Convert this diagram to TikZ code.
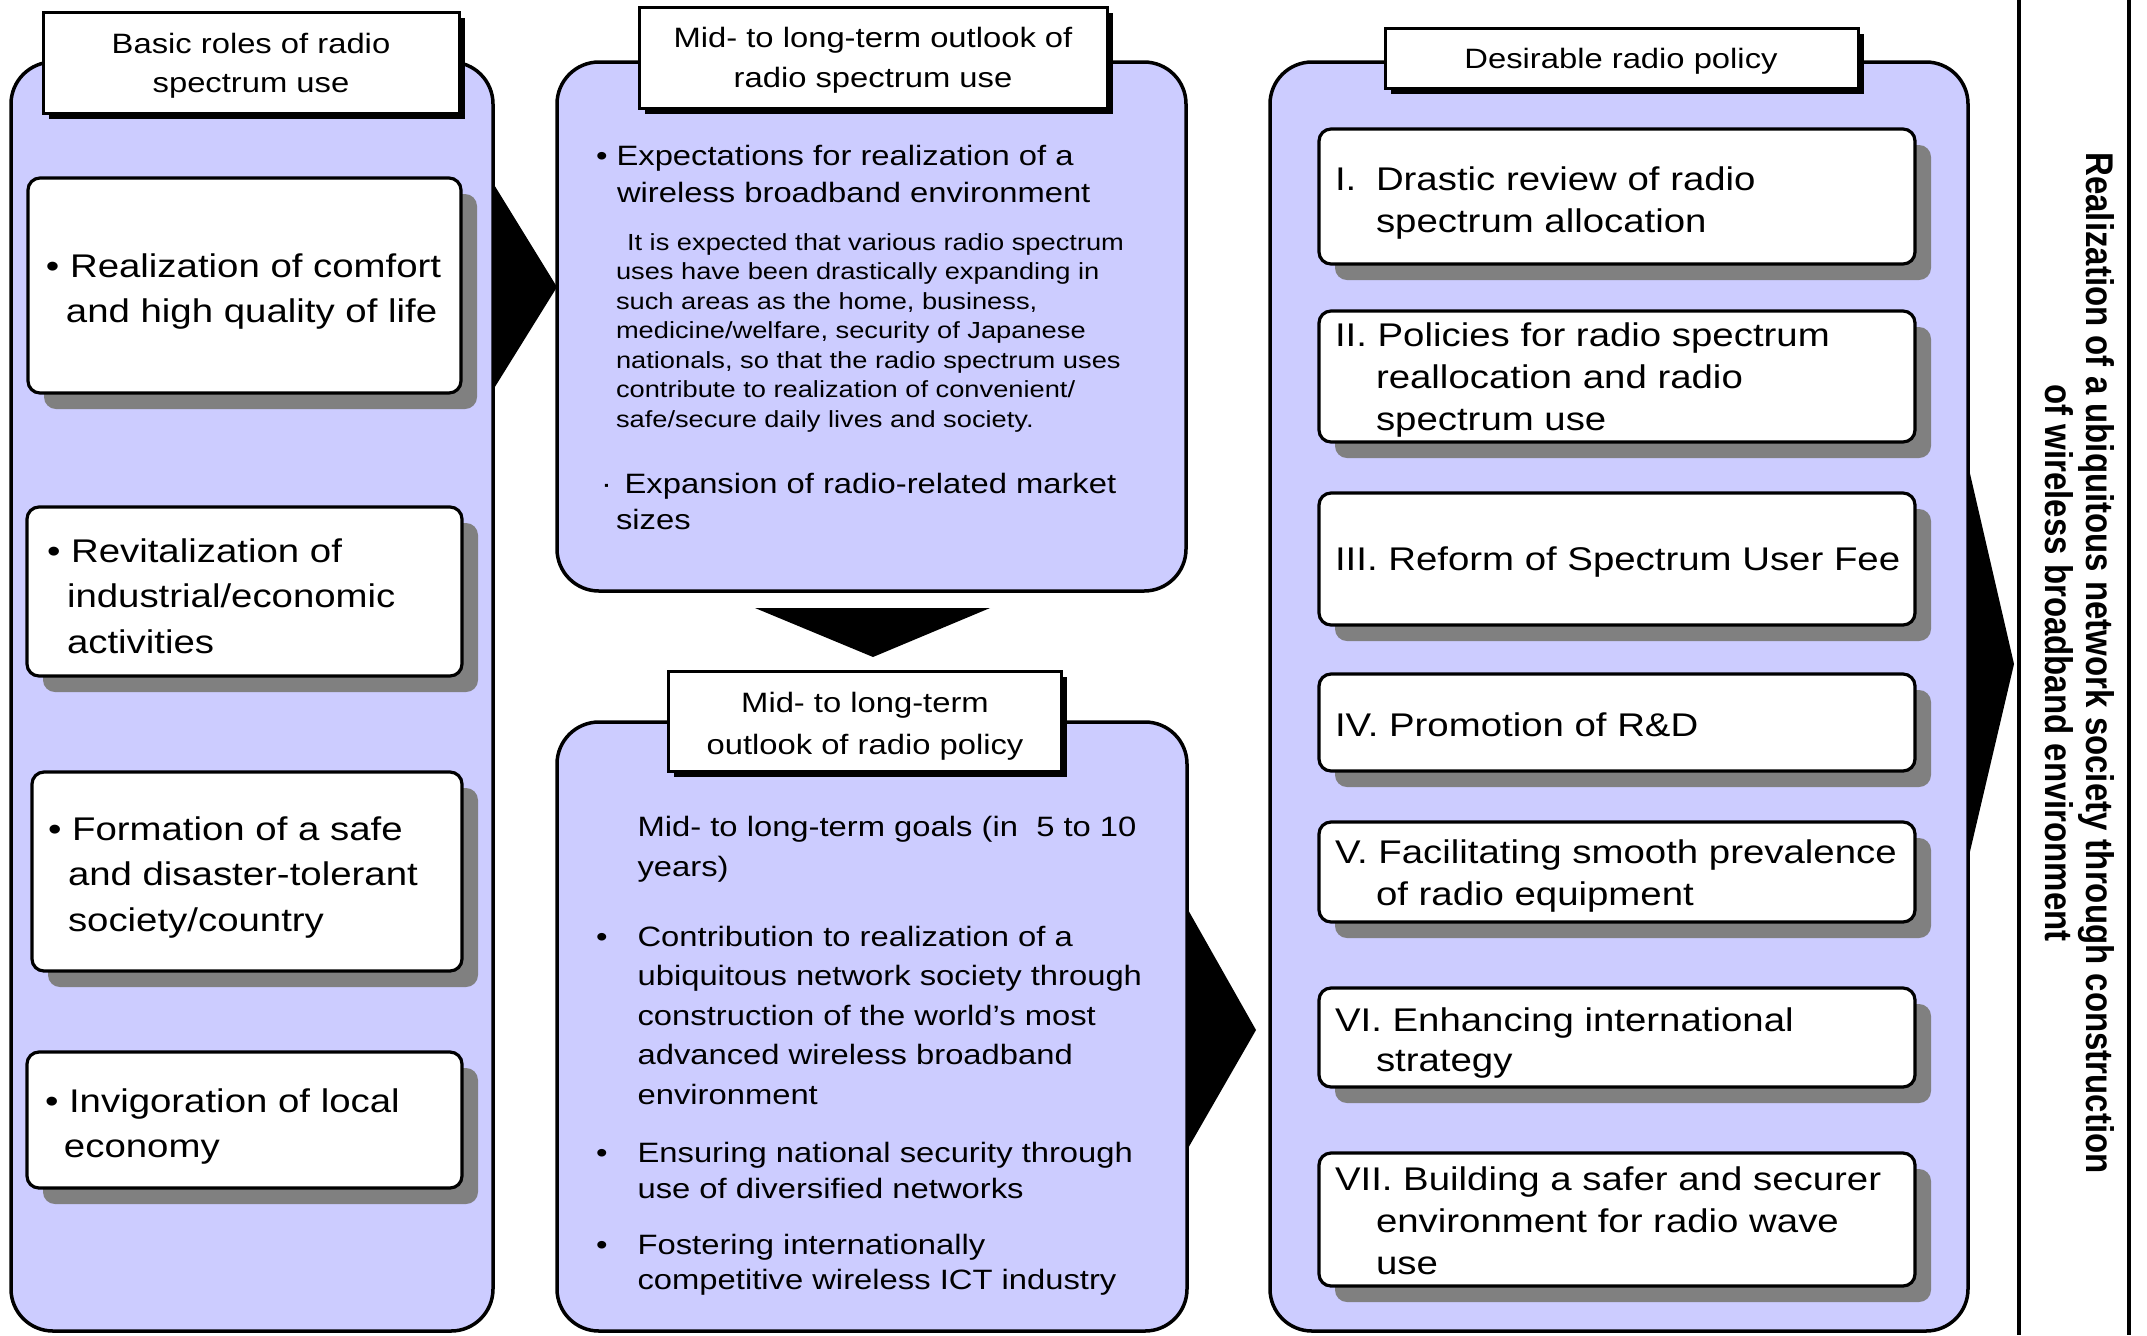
\documentclass[tikz,border=0pt]{standalone}
\usepackage{fontspec}
\setmainfont{Liberation Sans}
\newfontfamily\wf{Liberation Sans}[FakeStretch=1.17]
\usetikzlibrary{fit}
\definecolor{lav}{RGB}{204,204,255}
\definecolor{shgray}{RGB}{128,128,128}
\tikzset{
  panel/.style={draw=black, line width=1.75pt, fill=lav, rounded corners=21pt, inner sep=0pt},
  wbox/.style={draw=black, line width=1.6pt, fill=white, rounded corners=6pt, inner sep=0pt},
  wshadow/.style={fill=shgray, rounded corners=6pt, inner sep=0pt},
  tbox/.style={draw=black, line width=1.5pt, fill=white, inner sep=0pt},
  tshadow/.style={fill=black, inner sep=0pt},
  arrowtri/.style={fill=black},
  ttl/.style={anchor=north, inner sep=0pt, outer sep=0pt, align=center, font=\wf\fontsize{14}{#1}\selectfont},
  bigtxt/.style={anchor=north west, inner sep=0pt, outer sep=0pt, align=left, font=\wf\fontsize{16.4}{#1}\selectfont},
  midtxt/.style={anchor=north west, inner sep=0pt, outer sep=0pt, align=left, font=\wf\fontsize{14}{#1}\selectfont},
  smalltxt/.style={anchor=north west, inner sep=0pt, outer sep=0pt, align=left, font=\wf\fontsize{11.65}{14.75}\selectfont},
  vtxt/.style={inner sep=0pt, outer sep=0pt, rotate=-90, font=\fontsize{16.5}{17.5}\selectfont\bfseries},
  vline/.style={draw=black, line width=1.65pt},
}
\newcommand\mywbox[5]{%
  \node[wshadow, fit={(#2+16,#3+16) (#4+16,#5+16)}] (#1s) {};
  \node[wbox, fit={(#2,#3) (#4,#5)}] (#1) {};
}
\newcommand\mytbox[5]{%
  \node[tshadow, fit={(#2+6,#3+6) (#4+6,#5+6)}] (#1s) {};
  \node[tbox, fit={(#2,#3) (#4,#5)}] (#1) {};
}
\newcommand\st{\rule{0pt}{1em}}
\begin{document}
\begin{tikzpicture}[x=0.5pt, y=-0.5pt]
\useasboundingbox[fill=white] (0,0) rectangle (2147,1335);

% panels
\node[panel, fit={(11,62) (493,1331)}] (lp) {};
\node[panel, fit={(557,62) (1186,591)}] (mtp) {};
\node[panel, fit={(557,722) (1187,1331)}] (mbp) {};
\node[panel, fit={(1270,62) (1968,1331)}] (rp) {};

% left boxes
\mywbox{l1}{28}{178}{461}{393}
\mywbox{l2}{27}{507}{462}{676}
\mywbox{l3}{32}{772}{462}{971}
\mywbox{l4}{27}{1052}{462}{1188}

% right boxes
\mywbox{r1}{1319}{129}{1915}{264}
\mywbox{r2}{1319}{311}{1915}{442}
\mywbox{r3}{1319}{493}{1915}{625}
\mywbox{r4}{1319}{674}{1915}{771}
\mywbox{r5}{1319}{822}{1915}{922}
\mywbox{r6}{1319}{988}{1915}{1087}
\mywbox{r7}{1319}{1153}{1915}{1286}

% title boxes
\mytbox{lt}{43}{12}{459}{113}
\mytbox{mtt}{639}{7}{1107}{108}
\mytbox{mbt}{668}{671}{1061}{771}
\mytbox{rt}{1385}{28}{1858}{88}

% arrows
\fill[arrowtri] (493,183) -- (557,287) -- (493,390) -- cycle;
\fill[arrowtri] (755,608) -- (990,608) -- (873,657) -- cycle;
\fill[arrowtri] (1187,908) -- (1256,1030) -- (1187,1150) -- cycle;
\fill[arrowtri] (1968,465) -- (2014,664) -- (1968,860) -- cycle;

% right frame
\draw[vline] (2019,0) -- (2019,1335);
\draw[vline] (2129,0) -- (2129,1335);

% titles
\node[ttl=19.5pt] (ltx) at (251,25) {\st Basic roles of radio\\spectrum use};
\node[ttl=20pt] (mttx) at (873,19) {\st Mid- to long-term outlook of\\radio spectrum use};
\node[ttl=21pt] (mbtx) at (865,684) {\st Mid- to long-term\\outlook of radio policy};
\node[ttl=20pt] (rtx) at (1621,40) {\st Desirable radio policy};

% left box texts
\node[bigtxt=22.75pt] (l1t) at (46,244.2) {\st •\ Realization of comfort\\\hspace*{10pt}and high quality of life};
\node[bigtxt=22.75pt] (l2t) at (47,529.2) {\st •\ Revitalization of\\\hspace*{10pt}industrial/economic\\\hspace*{10pt}activities};
\node[bigtxt=22.75pt] (l3t) at (48,807.2) {\st •\ Formation of a safe\\\hspace*{10pt}and disaster-tolerant\\\hspace*{10pt}society/country};
\node[bigtxt=22.75pt] (l4t) at (45,1079.2) {\st •\ Invigoration of local\\\hspace*{9.5pt}economy};

% middle top texts
\node[midtxt=18.5pt] (m1) at (596,137) {\st •\ Expectations for realization of a\\\hspace*{10.5pt}wireless broadband environment};
\node[smalltxt] (m2) at (616,226.7) {\st\hspace*{5.5pt}It is expected that various radio spectrum\\uses have been drastically expanding in\\such areas as the home, business,\\medicine/welfare, security of Japanese\\nationals, so that the radio spectrum uses\\contribute to realization of convenient/\\safe/secure daily lives and society.};
\node[midtxt=18pt] (m3) at (601,465) {\st\makebox[11.8pt][l]{·}Expansion of radio-related market\\\hspace*{7.5pt}sizes};

% middle bottom texts
\node[midtxt=20pt] (g0) at (637.6,808) {\st Mid- to long-term goals (in\ \ 5 to 10\\years)};
\node[midtxt=19.75pt] (g1) at (596,918) {\st\makebox[20.8pt][l]{•}Contribution to realization of a\\\hspace*{20.8pt}ubiquitous network society through\\\hspace*{20.8pt}construction of the world’s most\\\hspace*{20.8pt}advanced wireless broadband\\\hspace*{20.8pt}environment};
\node[midtxt=18pt] (g2) at (596,1134) {\st\makebox[20.8pt][l]{•}Ensuring national security through\\\hspace*{20.8pt}use of diversified networks};
\node[midtxt=17.75pt] (g3) at (596,1226) {\st\makebox[20.8pt][l]{•}Fostering internationally\\\hspace*{20.8pt}competitive wireless ICT industry};

% right box texts
\node[bigtxt=21pt] (r1t) at (1335,157.2) {\st\makebox[20.5pt][l]{I.}Drastic review of radio\\\hspace*{20.5pt}spectrum allocation};
\node[bigtxt=21pt] (r2t) at (1335,313.2) {\st II.\ Policies for radio spectrum\\\hspace*{20.5pt}reallocation and radio\\\hspace*{20.5pt}spectrum use};
\node[bigtxt=21pt] (r3t) at (1335,537.2) {\st III.\ Reform of Spectrum User Fee};
\node[bigtxt=21pt] (r4t) at (1335,703.2) {\st IV.\ Promotion of R\&D};
\node[bigtxt=21pt] (r5t) at (1335,830.7) {\st V.\ Facilitating smooth prevalence\\\hspace*{20.5pt}of radio equipment};
\node[bigtxt=20pt] (r6t) at (1335,998.2) {\st VI.\ Enhancing international\\\hspace*{20.5pt}strategy};
\node[bigtxt=21pt] (r7t) at (1335,1157.2) {\st VII.\ Building a safer and securer\\\hspace*{20.5pt}environment for radio wave\\\hspace*{20.5pt}use};

% vertical text
\node[vtxt] (vt) at (2074,663) {\scalebox{1}[1.17]{\begin{tabular}{@{}c@{}}Realization of a ubiquitous network society through construction\\of wireless broadband environment\end{tabular}}};
\end{tikzpicture}
\end{document}
